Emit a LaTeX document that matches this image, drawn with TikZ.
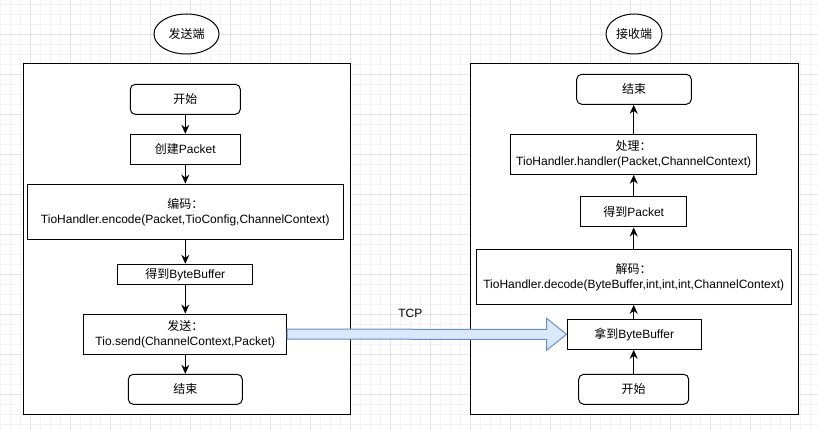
\documentclass[tikz,border=0pt]{standalone}
\usepackage{fontspec}
\setmainfont{Liberation Sans}
\newfontfamily\cjk{Noto Sans CJK SC}
\usetikzlibrary{arrows.meta,calc,shapes.geometric}
\definecolor{gridminor}{HTML}{F3F3F3}
\definecolor{gridmajor}{HTML}{E4E4E4}
\definecolor{tcpfill}{HTML}{DAE8FC}
\definecolor{tcpdraw}{HTML}{6C8EBF}
\begin{document}
\begin{tikzpicture}[x=1pt,y=-1pt,
  base/.style={draw=black, line width=1pt, fill=white, inner sep=0pt, align=center,
    font=\fontsize{12}{15}\selectfont},
  procbox/.style={base},
  termbox/.style={base, rounded corners=5pt},
  titleell/.style={base, ellipse},
  panel/.style={draw=black, line width=1pt, fill=white, inner sep=0pt},
  flow/.style={-{Stealth[length=9pt,width=8pt,inset=3pt]}, line width=1pt},
  bigarrow/.style={draw=tcpdraw, fill=tcpfill, line width=1pt, line join=miter},
  lbl/.style={inner sep=0pt, font=\fontsize{12}{15}\selectfont}
]
% background and grid
\fill[white] (0,0) rectangle (818,430);
\useasboundingbox (0,0) rectangle (818,430);
\foreach \gx in {0,10,...,810} \draw[gridminor, line width=0.8pt] (\gx,0) -- (\gx,430);
\foreach \gy in {4,14,...,424} \draw[gridminor, line width=0.8pt] (0,\gy) -- (818,\gy);
\foreach \gx in {30,70,...,810} \draw[gridmajor, line width=0.8pt] (\gx,0) -- (\gx,430);
\foreach \gy in {34,74,...,424} \draw[gridmajor, line width=0.8pt] (0,\gy) -- (818,\gy);

% panels
\node[panel, minimum width=327pt, minimum height=350pt] (lpanel) at (186.5,239) {};
\node[panel, minimum width=328pt, minimum height=350pt] (rpanel) at (634,239) {};

% titles
\node[titleell, minimum width=65pt, minimum height=40pt] (sender) at (186.5,34) {\cjk 发送端};
\node[titleell, minimum width=56pt, minimum height=40pt] (receiver) at (634,34) {\cjk 接收端};

% sender flow
\node[termbox, minimum width=110pt, minimum height=30pt] (s1) at (185.3,99.3) {\cjk 开始};
\node[procbox, minimum width=110pt, minimum height=30pt] (s2) at (185.3,149.3) {{\cjk 创建}Packet};
\node[procbox, minimum width=315.7pt, minimum height=55.3pt] (s3) at (185.3,211.7)
  {{\cjk 编码：}\\TioHandler.encode(Packet,TioConfig,ChannelContext)};
\node[procbox, minimum width=135.3pt, minimum height=20pt] (s4) at (185.3,274.3) {{\cjk 得到}ByteBuffer};
\node[procbox, minimum width=202.7pt, minimum height=40.3pt] (s5) at (185.3,334.2)
  {{\cjk 发送：}\\Tio.send(ChannelContext,Packet)};
\node[termbox, minimum width=114pt, minimum height=30pt] (s6) at (185.3,389.3) {\cjk 结束};

% receiver flow
\node[termbox, minimum width=114.6pt, minimum height=30pt] (r6) at (634,89.3) {\cjk 结束};
\node[procbox, minimum width=245.6pt, minimum height=40pt] (r5) at (633.7,154.3)
  {{\cjk 处理：}\\TioHandler.handler(Packet,ChannelContext)};
\node[procbox, minimum width=106.4pt, minimum height=30.3pt] (r4) at (633.7,211.8) {{\cjk 得到}Packet};
\node[procbox, minimum width=315.3pt, minimum height=55.3pt] (r3) at (633.7,276.7)
  {{\cjk 解码：}\\TioHandler.decode(ByteBuffer,int,int,int,ChannelContext)};
\node[procbox, minimum width=134.3pt, minimum height=30pt] (r2) at (634.2,334.3) {{\cjk 拿到}ByteBuffer};
\node[termbox, minimum width=110pt, minimum height=30pt] (r1) at (633.7,389.3) {\cjk 开始};

% connectors
\draw[flow] (s1) -- (s2);
\draw[flow] (s2) -- (s3);
\draw[flow] (s3) -- (s4);
\draw[flow] (s4) -- (s5);
\draw[flow] (s5) -- (s6);
\draw[flow] (r1.north) -- (r1.north |- r2.south);
\draw[flow] (r2.north -| r1.north) -- (r1.north |- r3.south);
\draw[flow] (r3.north -| r1.north) -- (r1.north |- r4.south);
\draw[flow] (r4.north -| r1.north) -- (r1.north |- r5.south);
\draw[flow] (r5.north -| r1.north) -- (r1.north |- r6.south);

% TCP big arrow
\draw[bigarrow] ($(s5.east)+(0,-5)$) -- ($(r2.west)+(-20,-5)$) -- ($(r2.west)+(-20,-16)$)
  -- (r2.west) -- ($(r2.west)+(-20,16)$) -- ($(r2.west)+(-20,5)$) -- ($(s5.east)+(0,5)$) -- cycle;
\node[lbl] (tcp) at (410.3,313) {TCP};
\end{tikzpicture}
\end{document}
